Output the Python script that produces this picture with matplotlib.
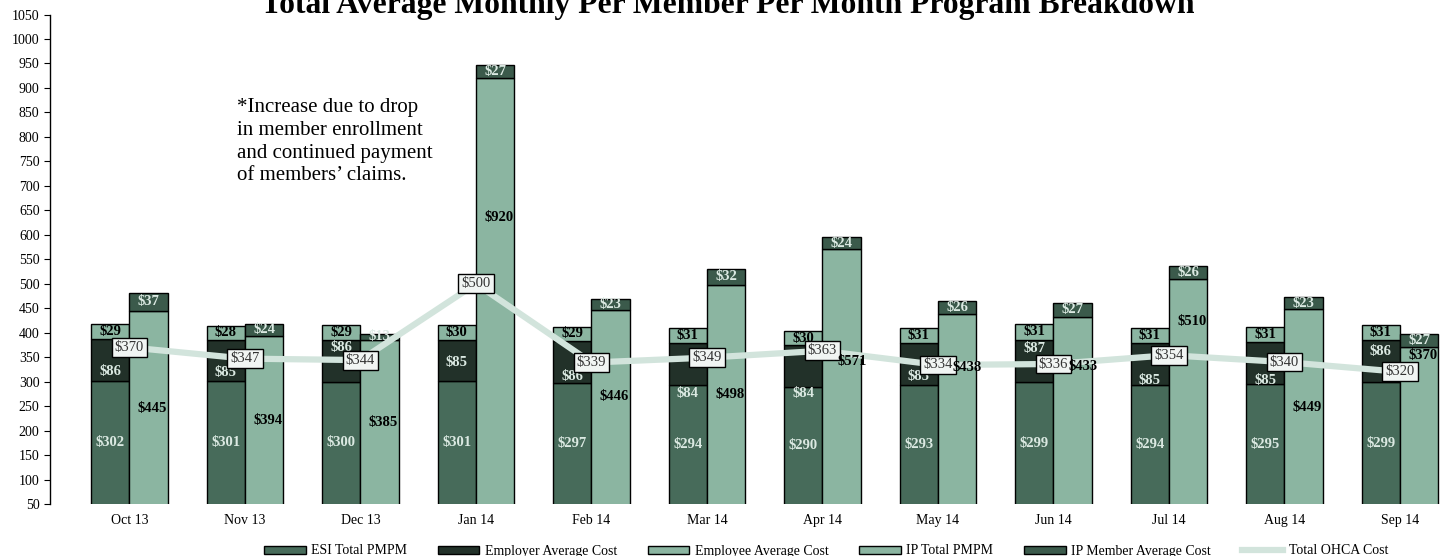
import numpy as np
import matplotlib.pyplot as plt
from matplotlib.lines import Line2D
from matplotlib.patches import Patch

months = ["Oct 13", "Nov 13", "Dec 13", "Jan 14", "Feb 14", "Mar 14",
          "Apr 14", "May 14", "Jun 14", "Jul 14", "Aug 14", "Sep 14"]
esi_total = [302, 301, 300, 301, 297, 294, 290, 293, 299, 294, 295, 299]
employer_cost = [86, 85, 86, 85, 86, 84, 84, 85, 87, 85, 85, 86]
employee_cost = [29, 28, 29, 30, 29, 31, 30, 31, 31, 31, 31, 31]
ip_total = [445, 394, 385, 920, 446, 498, 571, 438, 433, 510, 449, 370]
ip_member = [37, 24, 13, 27, 23, 32, 24, 26, 27, 26, 23, 27]
ohca_total = [370, 347, 344, 500, 339, 349, 363, 334, 336, 354, 340, 320]

# hand-placed label heights (data units), as in the original chart
employer_label_y = [320, 318, 369, 340, 310, 276, 276, 310, 367, 303, 303, 361]
ip_label_y = [246, 220, 216, 635, 269, 273, 342, 328, 330, 422, 248, 353]
# small sideways nudges so IP labels sit beside the OHCA boxes
ip_label_dx = [0.03, 0.03, 0.03, 0.03, 0.03, 0.03, 0.09, 0.09, 0.09, 0.03, 0.03, 0.03]

C_ESI = "#476b5a"
C_EMPLOYER = "#223129"
C_LIGHT = "#8bb5a1"
C_IPMEM = "#3b5a4b"
C_LINE = "#d2e4dc"
C_TXT_LIGHT = "#dbe9e2"

plt.rcParams["font.family"] = ["Liberation Serif", "DejaVu Serif"]

fig = plt.figure(figsize=(14.47, 5.56), dpi=100)
ax = fig.add_axes([50 / 1447, 52 / 556, 1 - 50 / 1447, (504 - 14.5) / 556])

x = np.arange(len(months))
w = 0.333
esi = np.array(esi_total)
emp = np.array(employer_cost)
ee = np.array(employee_cost)
ipt = np.array(ip_total)
ipm = np.array(ip_member)

kw = dict(width=w, edgecolor="black", linewidth=1.0, zorder=2)
ax.bar(x - w / 2, esi, color=C_ESI, **kw)
ax.bar(x - w / 2, emp, bottom=esi, color=C_EMPLOYER, **kw)
ax.bar(x - w / 2, ee, bottom=esi + emp, color=C_LIGHT, **kw)
ax.bar(x + w / 2, ipt, color=C_LIGHT, **kw)
ax.bar(x + w / 2, ipm, bottom=ipt, color=C_IPMEM, **kw)

ax.plot(x, ohca_total, color=C_LINE, linewidth=4.5, zorder=3, solid_capstyle="butt")

lab = dict(ha="center", va="center", fontsize=10.5, fontweight="bold", zorder=5)
for i in x:
    ax.text(i - w / 2, (50 + esi[i]) / 2, f"${esi[i]}", color=C_TXT_LIGHT, **lab)
    ax.text(i - w / 2, employer_label_y[i], f"${emp[i]}", color=C_TXT_LIGHT, **lab)
    ax.text(i - w / 2, esi[i] + emp[i] + ee[i] / 2, f"${ee[i]}", color="black", **lab)
    ax.text(i + w / 2 + ip_label_dx[i], ip_label_y[i], f"${ipt[i]}", color="black",
            ha="center", va="center", fontsize=10.5, fontweight="bold", zorder=7)
    ax.text(i + w / 2, ipt[i] + ipm[i] / 2, f"${ipm[i]}", color=C_TXT_LIGHT, **lab)
    ax.text(i, ohca_total[i], f"${ohca_total[i]}", ha="center", va="center",
            fontsize=10.5, color="#333333", zorder=6,
            bbox=dict(boxstyle="square,pad=0.2", facecolor="#f1f5f3",
                      edgecolor="black", linewidth=1.0))

ax.set_xlim(-0.688, 11.407)
ax.set_ylim(50, 1050)
ax.set_yticks(np.arange(50, 1051, 50))
ax.set_xticks(x)
ax.set_xticklabels(months)
ax.tick_params(axis="x", length=0, labelsize=10, pad=7)
ax.tick_params(axis="y", length=4, labelsize=10, direction="out")
for s in ["top", "right", "bottom"]:
    ax.spines[s].set_visible(False)
ax.spines["left"].set_linewidth(1.0)

ax.text(0.931, 880, "*Increase due to drop\nin member enrollment\nand continued payment\nof members\u2019 claims.",
        fontsize=15, ha="left", va="top", linespacing=1.28, color="black")

fig.text(728 / 1447, 1 - 13 / 556, "Total Average Monthly Per Member Per Month Program Breakdown",
         ha="center", va="baseline", fontsize=22.8, fontweight="bold")

handles = [
    Patch(facecolor=C_ESI, edgecolor="black", label="ESI Total PMPM"),
    Patch(facecolor=C_EMPLOYER, edgecolor="black", label="Employer Average Cost"),
    Patch(facecolor=C_LIGHT, edgecolor="black", label="Employee Average Cost"),
    Patch(facecolor=C_LIGHT, edgecolor="black", label="IP Total PMPM"),
    Patch(facecolor=C_IPMEM, edgecolor="black", label="IP Member Average Cost"),
    Line2D([0], [0], color=C_LINE, linewidth=4.5, label="Total OHCA Cost"),
]
fig.legend(handles=handles, loc="center", bbox_to_anchor=(826 / 1447, 1 - 551 / 556),
           ncol=6, frameon=False, fontsize=10, handlelength=3.0, handleheight=0.5,
           columnspacing=2.2, handletextpad=0.4)

fig.savefig("out.png", dpi=100)
